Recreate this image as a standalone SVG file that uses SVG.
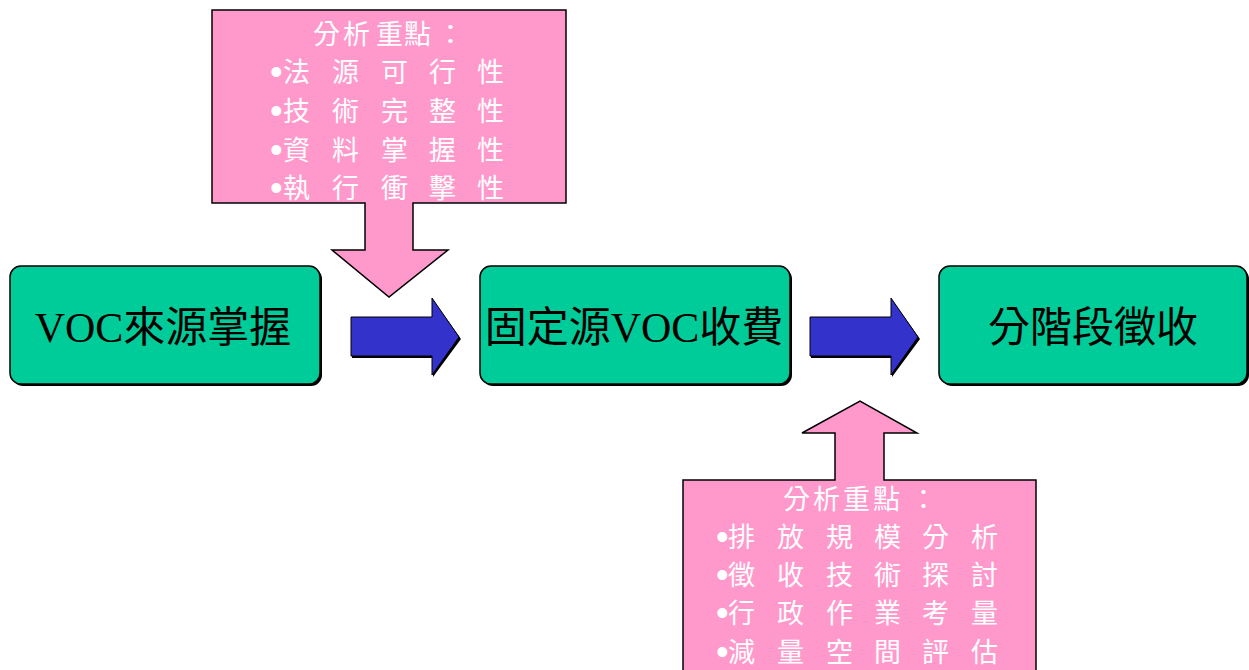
<svg xmlns="http://www.w3.org/2000/svg" width="1249" height="670" viewBox="0 0 1249 670">
<style>
.box{fill:#00CC99;stroke:#000;stroke-width:1.5}
.shadow{fill:#000}
.lbl{font-family:"Liberation Serif","Noto Sans CJK TC",serif;font-size:42px;fill:#000;text-anchor:middle}
.call{fill:#FF99CC;stroke:#000;stroke-width:1.5}
.ct{font-family:"Liberation Sans","Noto Sans CJK TC",sans-serif;font-size:27px;fill:#fff}
.bul{font-family:"Liberation Sans",sans-serif;font-size:36px;fill:#fff}
.arr{fill:#3333CC;stroke:#000;stroke-width:1}
.arrs{fill:#000}
</style>
<rect width="1249" height="670" fill="#fff"/>
<g id="connectors">
  <polygon class="arrs" points="352,319 433,319 433,300 461,339 433,377 433,358 352,358"/>
  <polygon class="arr" points="351,317 432,317 432,298 459,337 432,375 432,356 351,356"/>
  <polygon class="arrs" points="811,319 892,319 892,300 920,339 892,377 892,358 811,358"/>
  <polygon class="arr" points="810,317 891,317 891,298 918,337 891,375 891,356 810,356"/>
</g>
<g id="callout-top">
  <polygon class="call" points="212,10 566,10 566,203 413,203 413,250 448,250 389,297 332,250 365,250 365,203 212,203"/>
  <text class="ct" x="313 343 376 404 437" y="44">分析重點：</text>
  <text class="bul" x="270" y="84">•</text>
  <text class="bul" x="270" y="123">•</text>
  <text class="bul" x="270" y="162">•</text>
  <text class="bul" x="270" y="200">•</text>
  <text class="ct" x="283 332 381 429 477" y="82">法源可行性</text>
  <text class="ct" x="283 332 381 429 477" y="121">技術完整性</text>
  <text class="ct" x="283 332 381 429 477" y="160">資料掌握性</text>
  <text class="ct" x="283 332 381 429 477" y="198">執行衝擊性</text>
</g>
<g id="callout-bottom">
  <polygon class="call" points="683,672 683,480 835,480 835,433 802,433 860,401 917,433 884,433 884,480 1036,480 1036,672"/>
  <text class="ct" x="783 813 843 873 910" y="509">分析重點：</text>
  <text class="bul" x="716" y="549">•</text>
  <text class="bul" x="716" y="587">•</text>
  <text class="bul" x="716" y="625">•</text>
  <text class="bul" x="716" y="664">•</text>
  <text class="ct" x="728 777 826 874 922 971" y="547">排放規模分析</text>
  <text class="ct" x="728 777 826 874 922 971" y="585">徵收技術探討</text>
  <text class="ct" x="728 777 826 874 922 971" y="623">行政作業考量</text>
  <text class="ct" x="728 777 826 874 922 971" y="662">減量空間評估</text>
</g>
<g id="node-voc-source">
  <rect class="shadow" x="12" y="268" width="310" height="118" rx="11"/>
  <rect class="box" x="10" y="266" width="310" height="118" rx="11"/>
  <text class="lbl" x="163" y="342">VOC來源掌握</text>
</g>
<g id="node-fixed-source-fee">
  <rect class="shadow" x="482" y="268" width="310" height="118" rx="11"/>
  <rect class="box" x="480" y="266" width="310" height="118" rx="11"/>
  <text class="lbl" x="634" y="342">固定源VOC收費</text>
</g>
<g id="node-phased-collection">
  <rect class="shadow" x="941" y="268" width="308" height="118" rx="11"/>
  <rect class="box" x="939" y="266" width="308" height="118" rx="11"/>
  <text class="lbl" x="1093" y="342">分階段徵收</text>
</g>
</svg>
